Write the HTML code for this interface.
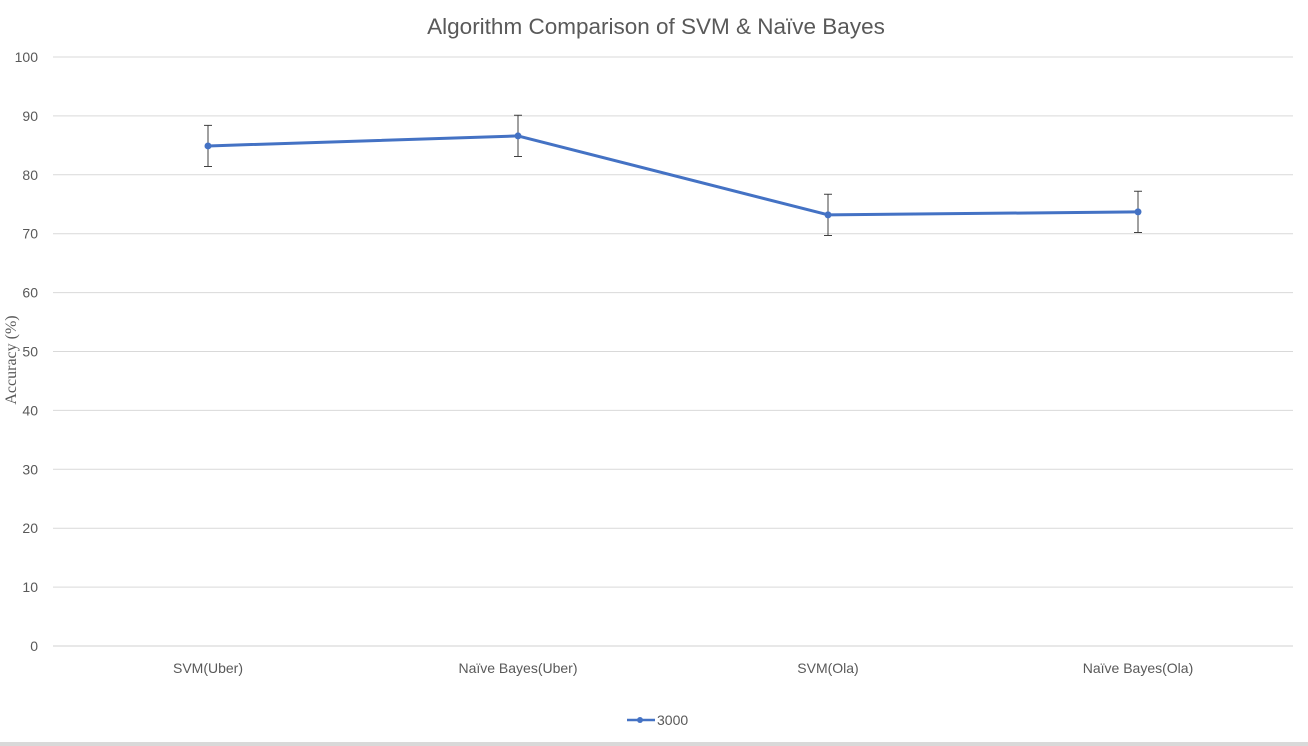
<!DOCTYPE html>
<html><head><meta charset="utf-8"><style>
html,body{margin:0;padding:0;background:#fff;}
svg{display:block;font-family:"Liberation Sans",sans-serif;}
</style></head><body>
<svg id="chart" width="1308" height="746">
<rect x="0" y="742" width="1308" height="4" fill="#d9d9d9"/>
<text x="656" y="34" text-anchor="middle" font-size="22.5" fill="#595959">Algorithm Comparison of SVM &amp; Naïve Bayes</text>
<text transform="translate(16,360) rotate(-90)" text-anchor="middle" font-size="16" fill="#595959" font-family="Liberation Serif, serif">Accuracy (%)</text>
<g id="grid"></g><g id="yticks"></g><g id="xticks"></g><g id="series"></g>
<g>
<line x1="627" y1="720" x2="655" y2="720" stroke="#4472c4" stroke-width="2.5"/>
<circle cx="640" cy="720" r="3" fill="#4472c4"/>
<text x="657" y="725" font-size="14" fill="#595959">3000</text>
</g>
</svg>
<script>
const categories=["SVM(Uber)","Naïve Bayes(Uber)","SVM(Ola)","Naïve Bayes(Ola)"];
const values=[84.9,86.6,73.2,73.7];
const errors=[3.5,3.5,3.5,3.5];
const yTicks=[0,10,20,30,40,50,60,70,80,90,100];
const NS="http://www.w3.org/2000/svg";
const L=53,R=1293,T=57,B=646;
const y=v=>B-(v/100)*(B-T);
const bw=(R-L)/categories.length;
const x=i=>L+bw*(i+0.5);
function mk(tag,attrs,parent){const e=document.createElementNS(NS,tag);for(const k in attrs)e.setAttribute(k,attrs[k]);document.getElementById(parent).appendChild(e);return e;}
yTicks.forEach(t=>{
 const g=mk("line",{x1:L,x2:R,y1:y(t),y2:y(t),stroke:t===0?"#d0d0d0":"#d9d9d9","stroke-width":1},"grid");
 
 
 const tx=mk("text",{x:38,y:y(t)+5,"text-anchor":"end","font-size":14,fill:"#595959"},"yticks");
 tx.textContent=t;
 
 
});
categories.forEach((c,i)=>{
 const tx=mk("text",{x:x(i),y:673,"text-anchor":"middle","font-size":14,fill:"#595959"},"xticks");
 tx.textContent=c;
 
 
});
const pts=values.map((v,i)=>x(i)+","+y(v)).join(" ");
const pl=mk("polyline",{points:pts,fill:"none",stroke:"#4472c4","stroke-width":3,"stroke-linejoin":"round"},"series");


values.forEach((v,i)=>{
 const hi=y(v+errors[i]),lo=y(v-errors[i]),cx=x(i);
 const eb=mk("path",{d:`M${cx},${hi}V${lo}M${cx-4},${hi}H${cx+4}M${cx-4},${lo}H${cx+4}`,stroke:"#404040","stroke-width":1,fill:"none"},"series");
 
 
 const c=mk("circle",{cx:cx,cy:y(v),r:3.5,fill:"#4472c4"},"series");
 
 
});
</script>
</body></html>
